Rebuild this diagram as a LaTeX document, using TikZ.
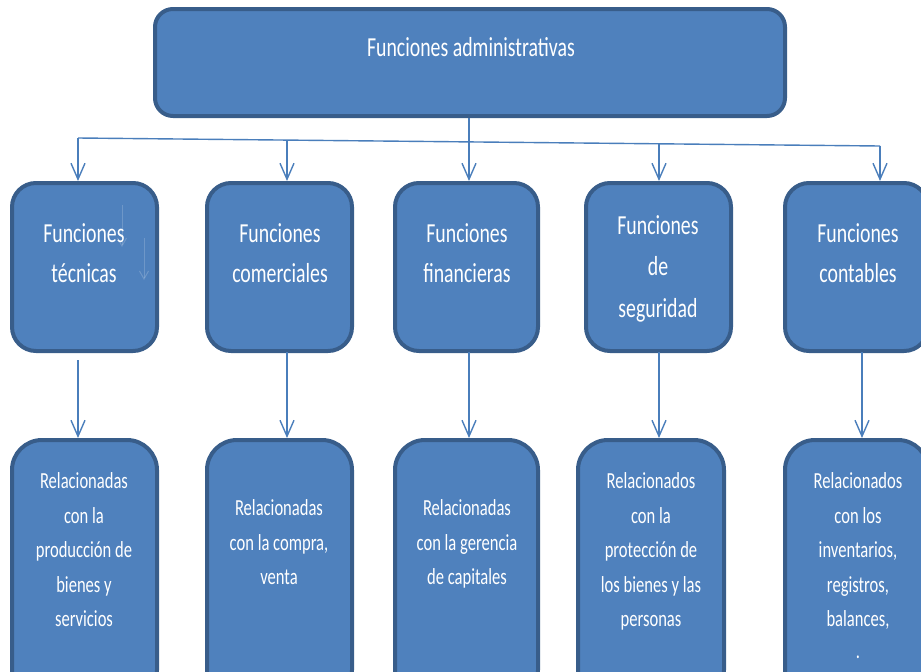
\documentclass[tikz,border=0pt]{standalone}
\usepackage{fontspec}
\usetikzlibrary{arrows.meta}
\newfontfamily\boxfont[FakeStretch=0.72]{Carlito}
\definecolor{boxfill}{HTML}{4F81BD}
\definecolor{boxedge}{HTML}{385D8A}
\definecolor{linkblue}{HTML}{4A7EBB}
\begin{document}
\begin{tikzpicture}[x=1pt,y=-1pt,
  card/.style={draw=boxedge, line width=4pt, fill=boxfill, inner sep=0pt},
  midcard/.style={card, rounded corners=24pt, minimum height=168pt},
  lowcard/.style={card, rounded corners=30pt, minimum height=260pt},
  % labels are placed by the baseline of their last line
  biglbl/.style={text=white, align=center, anchor=base, inner sep=0pt,
    font=\boxfont\fontsize{27.5}{40.5}\selectfont},
  smalllbl/.style={text=white, align=center, anchor=base, inner sep=0pt,
    font=\boxfont\fontsize{23}{34.5}\selectfont},
  link/.style={draw=linkblue, line width=1.4pt,
    -{Straight Barb[length=16pt,width=14pt]}},
  ghost/.style={draw=white, draw opacity=0.18, line width=1pt,
    -{Straight Barb[length=8pt,width=9pt]}}]
\useasboundingbox (0,0) rectangle (921,672);
\clip (0,0) rectangle (921,672);

% top box
\node[card, rounded corners=18pt, minimum width=630pt, minimum height=107pt] (top) at (470,62.5) {};
\node[biglbl] (toplbl) at (471,56) {Funciones administrativas};

% second row
\node[midcard, minimum width=145pt] (f1) at (84.5,267) {};
\node[midcard, minimum width=145pt] (f2) at (279.5,267) {};
\node[midcard, minimum width=143pt] (f3) at (466.5,267) {};
\node[midcard, minimum width=145pt] (f4) at (658.5,267) {};
\node[midcard, minimum width=143pt] (f5) at (856.5,267) {};

\node[biglbl] (f1l) at (84,282.5) {Funciones\\técnicas};
\node[biglbl] (f2l) at (280,282.5) {Funciones\\comerciales};
\node[biglbl] (f3l) at (467,282.5) {Funciones\\financieras};
\node[biglbl, font=\boxfont\fontsize{27.5}{41.5}\selectfont] (f4l) at (658,317) {Funciones\\de\\seguridad};
\node[biglbl] (f5l) at (858,282.5) {Funciones\\contables};

% faint marks inside the first box
\coordinate (g1a) at (122,205); \coordinate (g1b) at (122,247);
\coordinate (g2a) at (144,238); \coordinate (g2b) at (144,280);
\draw[ghost] (g1a) -- (g1b);
\draw[ghost] (g2a) -- (g2b);

% third row
\node[lowcard, minimum width=145pt] (r1) at (84.5,570) {};
\node[lowcard, minimum width=145pt] (r2) at (279.5,570) {};
\node[lowcard, minimum width=143pt] (r3) at (466.5,570) {};
\node[lowcard, minimum width=146pt] (r4) at (651,570) {};
\node[lowcard, minimum width=143pt] (r5) at (856.5,570) {};

\node[smalllbl] (r1l) at (84,626.5) {Relacionadas\\con la\\producción de\\bienes y\\servicios};
\node[smalllbl] (r2l) at (279,584.5) {Relacionadas\\con la compra,\\venta};
\node[smalllbl] (r3l) at (467,584.5) {Relacionadas\\con la gerencia\\de capitales};
\node[smalllbl] (r4l) at (651,626.5) {Relacionados\\con la\\protección de\\los bienes y las\\personas};
\node[smalllbl] (r5l) at (858,658) {Relacionados\\con los\\inventarios,\\registros,\\balances,\\[-3pt].};

% distribution line and links to the second row
\coordinate (d1) at (78,138);
\coordinate (d2) at (287,140);
\coordinate (d3) at (469,142);
\coordinate (d4) at (659,144);
\coordinate (d5) at (880,146);
\draw[draw=linkblue, line width=1.4pt] (d1) -- (d5);
\draw[link] (d1) -- (d1 |- f1.north);
\draw[link] (d2) -- (d2 |- f2.north);
\draw[link] (top.south -| d3) -- (d3 |- f3.north);
\draw[link] (d4) -- (d4 |- f4.north);
\draw[link] (d5) -- (d5 |- f5.north);

% links to the third row
\coordinate (e1) at (78,360);
\coordinate (e2) at (287,352);
\coordinate (e3) at (469,352);
\coordinate (e4) at (659,352);
\coordinate (e5) at (862,352);
\draw[link] (e1) -- (e1 |- r1.north);
\draw[link] (e2) -- (e2 |- r2.north);
\draw[link] (e3) -- (e3 |- r3.north);
\draw[link] (e4) -- (e4 |- r4.north);
\draw[link] (e5) -- (e5 |- r5.north);
\end{tikzpicture}
\end{document}
